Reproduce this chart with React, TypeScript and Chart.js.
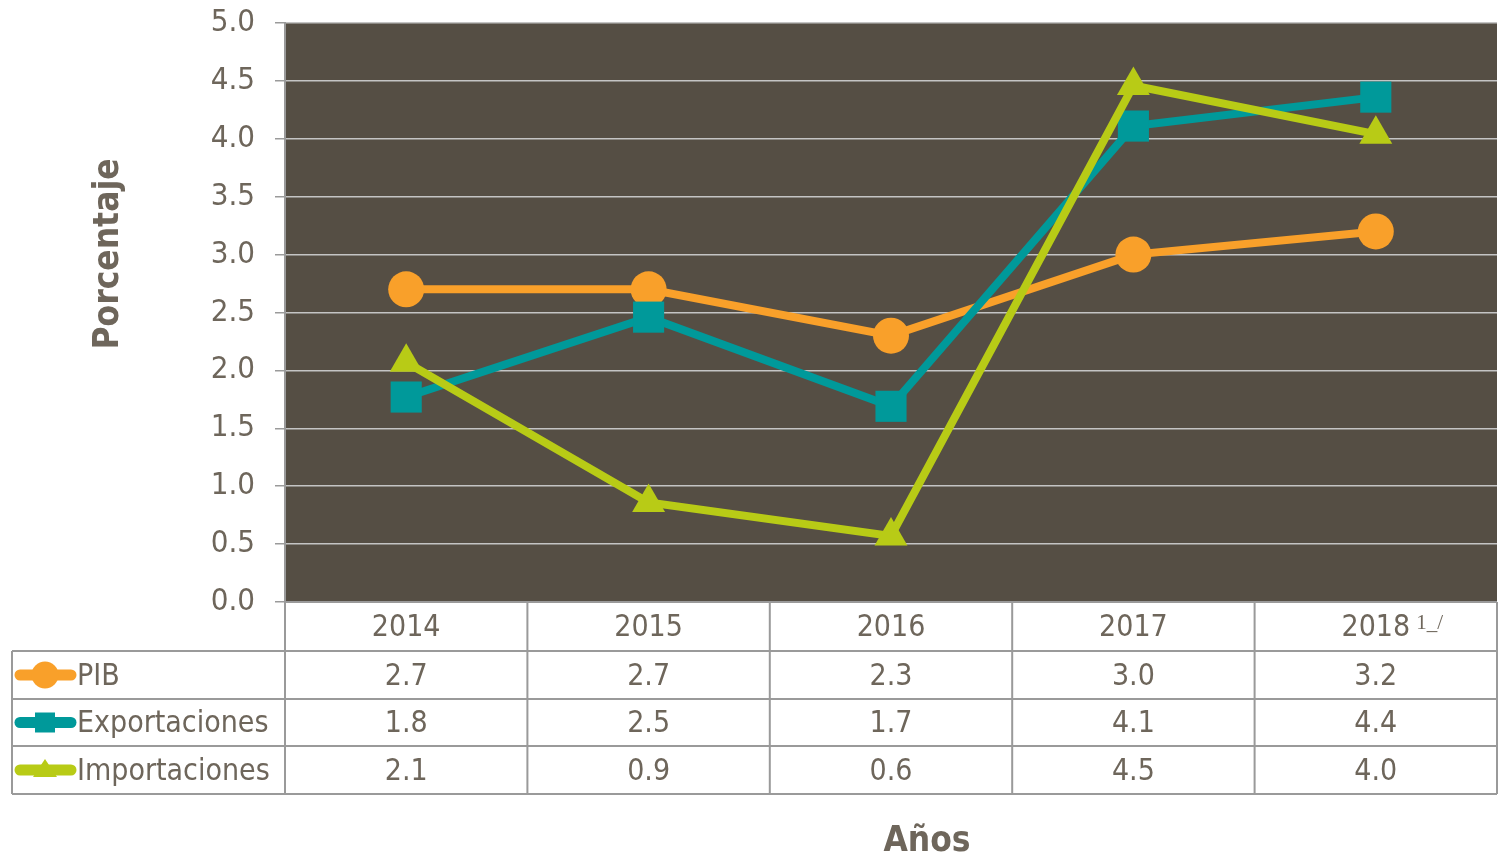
import React, { useEffect, useRef } from "react";
import { Chart, registerables } from "chart.js";

Chart.register(...registerables);

const years = ["2014", "2015", "2016", "2017", "2018"];
const yearNotes = ["", "", "", "", "1_/"];
const pib = [2.7, 2.7, 2.3, 3.0, 3.2];
const exportaciones = [1.77, 2.46, 1.69, 4.11, 4.36];
const importaciones = [2.07, 0.86, 0.57, 4.46, 4.04];
const seriesNames = ["PIB", "Exportaciones", "Importaciones"];
const yTicks = [0, 0.5, 1, 1.5, 2, 2.5, 3, 3.5, 4, 4.5, 5];

const COLORS = ["#f9a02a", "#00999a", "#b8cb16"];
const STYLES = ["circle", "rect", "triangle"];
const TEXT = "#6e665b";
const FONT = '"DejaVu Sans Condensed", "DejaVu Sans", sans-serif';
const BG = "#554e44";
const LINE = "#9a9a9a";

const rowLines = [602, 651, 699, 746, 794];

function drawMarker(ctx: CanvasRenderingContext2D, style: string, x: number, y: number, color: string) {
  ctx.fillStyle = color;
  ctx.beginPath();
  if (style === "circle") {
    ctx.arc(x, y, 13.5, 0, Math.PI * 2);
  } else if (style === "rect") {
    ctx.rect(x - 10, y - 10, 20, 20);
  } else {
    ctx.moveTo(x, y - 11);
    ctx.lineTo(x + 12, y + 7);
    ctx.lineTo(x - 12, y + 7);
    ctx.closePath();
  }
  ctx.fill();
}

const tablePlugin = {
  id: "tablePlugin",
  beforeDraw(chart: any) {
    const { ctx, chartArea } = chart;
    ctx.save();
    ctx.fillStyle = BG;
    ctx.fillRect(chartArea.left, chartArea.top, chartArea.right - chartArea.left, chartArea.bottom - chartArea.top);
    ctx.restore();
  },
  afterDraw(chart: any) {
    const { ctx, chartArea } = chart;
    const xs = chart.scales.x;
    const left = chartArea.left;
    const right = chartArea.right;
    const colW = (right - left) / years.length;
    const tableLeft = 12;
    ctx.save();
    ctx.strokeStyle = LINE;
    ctx.lineWidth = 2;
    ctx.beginPath();
    ctx.moveTo(left, rowLines[0]);
    ctx.lineTo(right, rowLines[0]);
    for (let i = 1; i < rowLines.length; i++) {
      ctx.moveTo(tableLeft, rowLines[i]);
      ctx.lineTo(right, rowLines[i]);
    }
    for (let i = 0; i <= years.length; i++) {
      const x = left + i * colW;
      ctx.moveTo(x, rowLines[0]);
      ctx.lineTo(x, rowLines[rowLines.length - 1]);
    }
    ctx.moveTo(tableLeft, rowLines[1]);
    ctx.lineTo(tableLeft, rowLines[rowLines.length - 1]);
    ctx.stroke();

    ctx.fillStyle = TEXT;
    ctx.textBaseline = "middle";
    years.forEach((yr, i) => {
      const cx = xs.getPixelForValue(i);
      const cy = (rowLines[0] + rowLines[1]) / 2 + 2;
      ctx.textAlign = "center";
      ctx.font = `30px ${FONT}`;
      ctx.fillText(yr, cx, cy);
      if (yearNotes[i]) {
        const w = ctx.measureText(yr).width;
        ctx.textAlign = "left";
        ctx.font = `21px "Liberation Serif", serif`;
        ctx.fillText(yearNotes[i], cx + w / 2 + 6, cy - 5);
      }
    });

    const data = [pib, exportaciones, importaciones];
    data.forEach((vals, r) => {
      const cy = (rowLines[r + 1] + rowLines[r + 2]) / 2 + 2;
      ctx.strokeStyle = COLORS[r];
      ctx.lineWidth = 11;
      ctx.lineCap = "round";
      ctx.beginPath();
      ctx.moveTo(20, cy - 2);
      ctx.lineTo(71, cy - 2);
      ctx.stroke();
      drawMarker(ctx, STYLES[r], 45, cy - 2, COLORS[r]);
      ctx.fillStyle = TEXT;
      ctx.font = `30px ${FONT}`;
      ctx.textAlign = "left";
      ctx.fillText(seriesNames[r], 77, cy);
      ctx.textAlign = "center";
      vals.forEach((v, i) => {
        ctx.fillText(v.toFixed(1), xs.getPixelForValue(i), cy);
      });
    });

    ctx.fillStyle = TEXT;
    ctx.font = `bold 35px ${FONT}`;
    ctx.textAlign = "center";
    ctx.textBaseline = "middle";
    ctx.save();
    ctx.translate(109, 254);
    ctx.rotate(-Math.PI / 2);
    ctx.fillText("Porcentaje", 0, 0);
    ctx.restore();
    ctx.fillText("Años", 927, 842);
    ctx.restore();
  },
};

function zeroPad(scale: any) {
  scale.paddingTop = 0;
  scale.paddingBottom = 0;
  scale.paddingLeft = 0;
  scale.paddingRight = 0;
}

export default function App() {
  const ref = useRef<HTMLCanvasElement | null>(null);
  useEffect(() => {
    if (!ref.current) return;
    const datasets = [pib, exportaciones, importaciones].map((vals, i) => ({
      label: seriesNames[i],
      data: vals,
      borderColor: COLORS[i],
      backgroundColor: COLORS[i],
      pointBackgroundColor: COLORS[i],
      pointBorderColor: COLORS[i],
      borderWidth: 8,
      pointStyle: STYLES[i] as any,
      pointRadius: i === 0 ? 18 : i === 1 ? 22 : 19,
      pointBorderWidth: 0,
      tension: 0,
      order: 3 - i,
    }));
    const chart = new Chart(ref.current, {
      type: "line",
      data: { labels: years, datasets },
      options: {
        responsive: false,
        animation: false,
        layout: { autoPadding: false, padding: { left: 0, top: 23, right: 2, bottom: 263 } },
        plugins: { legend: { display: false }, tooltip: { enabled: false } },
        scales: {
          x: {
            type: "category",
            offset: true,
            display: false,
            afterFit: (scale: any) => {
              scale.height = 0;
              zeroPad(scale);
            },
          },
          y: {
            min: 0,
            max: 5,
            afterBuildTicks: (scale: any) => {
              scale.ticks = yTicks.map((v) => ({ value: v }));
            },
            afterFit: (scale: any) => {
              scale.width = 285;
              zeroPad(scale);
            },
            ticks: {
              color: TEXT,
              font: { family: FONT, size: 31 },
              padding: 20,
              callback: (v: any) => Number(v).toFixed(1),
            },
            grid: {
              color: "#c4c4c4",
              lineWidth: 1.5,
              tickLength: 10,
              tickColor: LINE,
            },
            border: { color: LINE, width: 2 },
          },
        },
      },
      plugins: [tablePlugin],
    });
    return () => chart.destroy();
  }, []);
  return (
    <div style={{ position: "absolute", left: 0, top: 0, width: 1499, height: 865, background: "#fff" }}>
      <canvas ref={ref} width={1499} height={865} style={{ width: 1499, height: 865, display: "block" }} />
    </div>
  );
}
